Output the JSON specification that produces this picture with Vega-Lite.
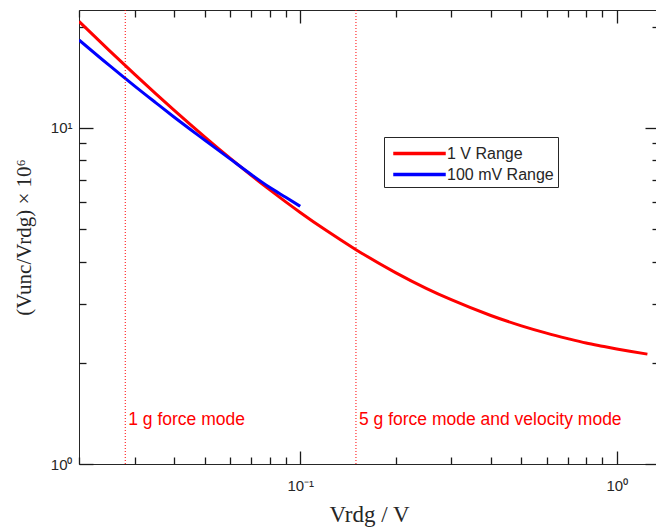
{
  "$schema": "https://vega.github.io/schema/vega-lite/v6.json",
  "width": 580,
  "height": 454,
  "autosize": {"type": "none"},
  "padding": {"left": 79, "top": 10, "right": 0, "bottom": 67},
  "background": "white",
  "config": {
    "view": {"stroke": "#262626", "strokeWidth": 1},
    "axis": {
      "grid": false,
      "domain": false,
      "ticks": true,
      "tickColor": "#1a1a1a",
      "tickWidth": 1.3,
      "tickOpacity": 1,
      "labelColor": "#262626",
      "labelFont": "Liberation Sans",
      "labelFontSize": 15,
      "titleFont": "Liberation Serif",
      "titleFontWeight": "normal",
      "titleColor": "#262626",
      "labelFlush": false,
      "labelOverlap": false
    },
    "legend": {
      "orient": "none",
      "legendX": 305,
      "legendY": 127,
      "symbolType": "M-2.5,0H2.5",
      "symbolSize": 441,
      "symbolStrokeWidth": 3.5,
      "symbolOffset": 19,
      "labelOffset": 15,
      "padding": 4,
      "rowPadding": 0,
      "strokeColor": "#262626",
      "fillColor": "white",
      "labelFont": "Liberation Sans",
      "labelFontSize": 16,
      "labelColor": "#262626"
    }
  },
  "datasets": {
    "curves": [
      {"series": "1 V Range", "x": 0.02, "y": 20.72},
      {"series": "1 V Range", "x": 0.025, "y": 16.94},
      {"series": "1 V Range", "x": 0.03, "y": 14.42},
      {"series": "1 V Range", "x": 0.035, "y": 12.62},
      {"series": "1 V Range", "x": 0.04, "y": 11.27},
      {"series": "1 V Range", "x": 0.045, "y": 10.22},
      {"series": "1 V Range", "x": 0.05, "y": 9.38},
      {"series": "1 V Range", "x": 0.06, "y": 8.12},
      {"series": "1 V Range", "x": 0.07, "y": 7.22},
      {"series": "1 V Range", "x": 0.08, "y": 6.545},
      {"series": "1 V Range", "x": 0.09, "y": 6.02},
      {"series": "1 V Range", "x": 0.1, "y": 5.6},
      {"series": "1 V Range", "x": 0.12, "y": 4.97},
      {"series": "1 V Range", "x": 0.15, "y": 4.34},
      {"series": "1 V Range", "x": 0.2, "y": 3.71},
      {"series": "1 V Range", "x": 0.25, "y": 3.33},
      {"series": "1 V Range", "x": 0.3, "y": 3.08},
      {"series": "1 V Range", "x": 0.4, "y": 2.765},
      {"series": "1 V Range", "x": 0.5, "y": 2.576},
      {"series": "1 V Range", "x": 0.6, "y": 2.45},
      {"series": "1 V Range", "x": 0.7, "y": 2.36},
      {"series": "1 V Range", "x": 0.8, "y": 2.29},
      {"series": "1 V Range", "x": 0.9, "y": 2.24},
      {"series": "1 V Range", "x": 1.0, "y": 2.198},
      {"series": "1 V Range", "x": 1.1, "y": 2.164},
      {"series": "1 V Range", "x": 1.25, "y": 2.122},
      {"series": "100 mV Range", "x": 0.02, "y": 18.25},
      {"series": "100 mV Range", "x": 0.025, "y": 15.3},
      {"series": "100 mV Range", "x": 0.03, "y": 13.3},
      {"series": "100 mV Range", "x": 0.035, "y": 11.86},
      {"series": "100 mV Range", "x": 0.04, "y": 10.75},
      {"series": "100 mV Range", "x": 0.045, "y": 9.88},
      {"series": "100 mV Range", "x": 0.05, "y": 9.18},
      {"series": "100 mV Range", "x": 0.06, "y": 8.08},
      {"series": "100 mV Range", "x": 0.07, "y": 7.26},
      {"series": "100 mV Range", "x": 0.08, "y": 6.65},
      {"series": "100 mV Range", "x": 0.09, "y": 6.21},
      {"series": "100 mV Range", "x": 0.1, "y": 5.84}
    ]
  },
  "resolve": {"axis": {"x": "independent", "y": "independent"}},
  "layer": [
    {
      "data": {"name": "curves"},
      "transform": [{"filter": "datum.series == '1 V Range'"}],
      "mark": {"type": "line", "strokeWidth": 3, "strokeCap": "butt", "interpolate": "monotone", "clip": true},
      "encoding": {
        "x": {
          "field": "x", "type": "quantitative",
          "scale": {"type": "log", "domain": [0.02, 1.36], "nice": false},
          "axis": {
            "orient": "bottom",
            "values": [0.1, 1],
            "labelExpr": "datum.value == 0.1 ? '10⁻¹' : '10⁰'",
            "offset": -13,
            "tickSize": 13,
            "labelPadding": 14,
            "title": "Vrdg / V",
            "titleFontSize": 23,
            "titlePadding": 10
          }
        },
        "y": {
          "field": "y", "type": "quantitative",
          "scale": {"type": "log", "domain": [1, 22.4], "nice": false},
          "axis": {
            "orient": "left",
            "values": [1, 10],
            "labelExpr": "datum.value == 1 ? '10⁰' : '10¹'",
            "offset": -14,
            "tickSize": 14,
            "labelPadding": 7,
            "title": "(Vunc/Vrdg) × 10⁶",
            "titleFontSize": 21,
            "titlePadding": 16
          }
        },
        "color": {
          "field": "series", "type": "nominal",
          "scale": {"domain": ["1 V Range", "100 mV Range"], "range": ["#ff0000", "#0000ff"]},
          "legend": {"title": null}
        }
      }
    },
    {
      "data": {"name": "curves"},
      "transform": [{"filter": "datum.series == '100 mV Range'"}],
      "mark": {"type": "line", "strokeWidth": 3, "strokeCap": "butt", "interpolate": "monotone", "clip": true},
      "encoding": {
        "x": {
          "field": "x", "type": "quantitative",
          "axis": {
            "orient": "bottom",
            "values": [0.02, 0.03, 0.04, 0.05, 0.06, 0.07, 0.08, 0.09, 0.2, 0.3, 0.4, 0.5, 0.6, 0.7, 0.8, 0.9],
            "labels": false,
            "title": null,
            "offset": -7,
            "tickSize": 7
          }
        },
        "y": {
          "field": "y", "type": "quantitative",
          "axis": {
            "orient": "left",
            "values": [2, 3, 4, 5, 6, 7, 8, 9, 20],
            "labels": false,
            "title": null,
            "offset": -7,
            "tickSize": 7
          }
        },
        "color": {
          "field": "series", "type": "nominal",
          "legend": {"title": null}
        }
      }
    },
    {
      "data": {"values": [{"x": 0.028}, {"x": 0.15}]},
      "mark": {"type": "rule", "color": "#ff0000", "strokeDash": [1, 2], "strokeWidth": 1},
      "encoding": {
        "x": {"field": "x", "type": "quantitative", "axis": null}
      }
    },
    {
      "data": {"values": [{"x": 0.028, "y": 1.352, "label": "1 g force mode"}]},
      "mark": {"type": "text", "align": "left", "baseline": "middle", "dx": 3, "color": "#ff0000", "font": "Liberation Sans", "fontSize": 17.5},
      "encoding": {
        "x": {
          "field": "x", "type": "quantitative",
          "axis": {
            "orient": "top",
            "values": [0.1, 1],
            "labels": false,
            "title": null,
            "offset": -13,
            "tickSize": 13
          }
        },
        "y": {
          "field": "y", "type": "quantitative",
          "axis": {
            "orient": "right",
            "values": [1, 10],
            "labels": false,
            "title": null,
            "offset": -14,
            "tickSize": 14
          }
        },
        "text": {"field": "label"}
      }
    },
    {
      "data": {"values": [{"x": 0.15, "y": 1.352, "label": "5 g force mode and velocity mode"}]},
      "mark": {"type": "text", "align": "left", "baseline": "middle", "dx": 3, "color": "#ff0000", "font": "Liberation Sans", "fontSize": 17.5},
      "encoding": {
        "x": {
          "field": "x", "type": "quantitative",
          "axis": {
            "orient": "top",
            "values": [0.02, 0.03, 0.04, 0.05, 0.06, 0.07, 0.08, 0.09, 0.2, 0.3, 0.4, 0.5, 0.6, 0.7, 0.8, 0.9],
            "labels": false,
            "title": null,
            "offset": -7,
            "tickSize": 7
          }
        },
        "y": {
          "field": "y", "type": "quantitative",
          "axis": {
            "orient": "right",
            "values": [2, 3, 4, 5, 6, 7, 8, 9, 20],
            "labels": false,
            "title": null,
            "offset": -7,
            "tickSize": 7
          }
        },
        "text": {"field": "label"}
      }
    }
  ]
}
